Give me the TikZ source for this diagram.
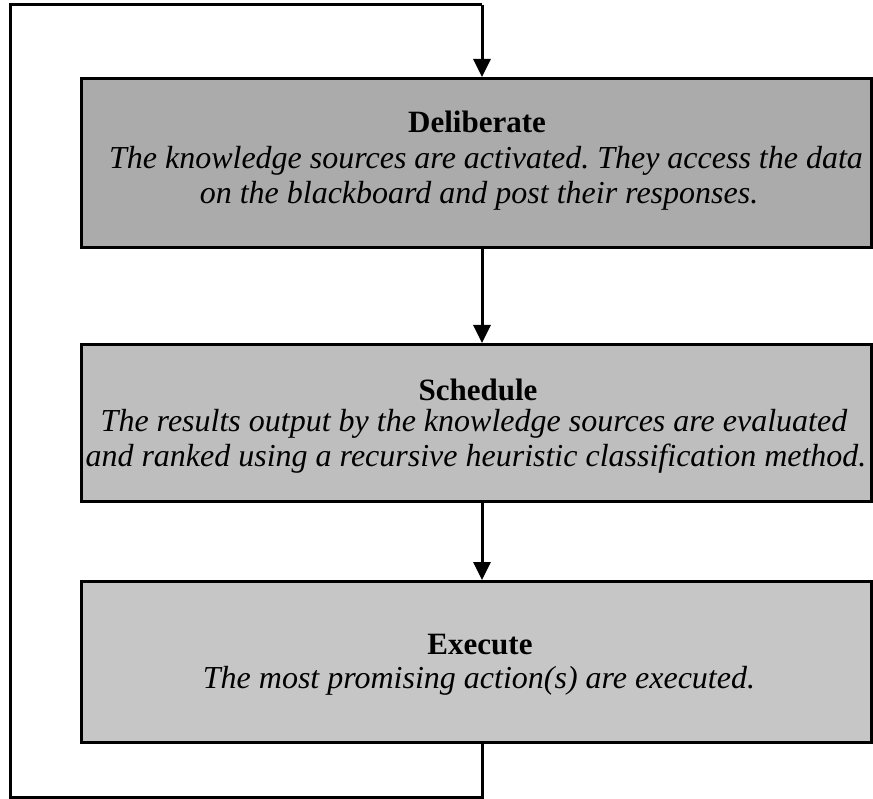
\documentclass[tikz,border=0pt]{standalone}
\usepackage{fontspec}
\setmainfont{Liberation Serif}
\usetikzlibrary{arrows.meta}
\definecolor{delibfill}{HTML}{ABABAB}
\definecolor{schedfill}{HTML}{BEBEBE}
\definecolor{execfill}{HTML}{C6C6C6}
\tikzset{
  stagebox/.style={draw=black, line width=3pt, rectangle, anchor=north west, inner sep=0pt},
  title/.style={font=\fontsize{31}{36}\selectfont\bfseries, inner sep=0pt},
  body/.style={font=\fontsize{32}{36}\selectfont\itshape, inner sep=0pt},
  flow/.style={line width=3pt, -{Triangle[width=17pt,length=18pt]}},
  loopline/.style={line width=3pt}
}
\begin{document}
\begin{tikzpicture}[x=1pt,y=-1pt]
\useasboundingbox (0,0) rectangle (873,799);
% boxes
\node[stagebox, fill=delibfill, minimum width=790pt, minimum height=169pt] (delib) at (80,77) {};
\node[stagebox, fill=schedfill, minimum width=790pt, minimum height=157pt] (sched) at (80,343) {};
\node[stagebox, fill=execfill, minimum width=790pt, minimum height=161pt] (exec) at (80,580) {};
% texts
\node[title] (delibT) at (477,122) {Deliberate};
\node[body] (delibA) at (486,161) {The knowledge sources are activated.\ They access the data};
\node[body] (delibB) at (479,196) {on the blackboard and post their responses.};
\node[title] (schedT) at (478,390) {Schedule};
\node[body] (schedA) at (474,424) {The results output by the knowledge sources are evaluated};
\node[body] (schedB) at (476,459) {and ranked using a recursive heuristic classification method.};
\node[title] (execT) at (480,645) {Execute};
\node[body] (execA) at (479,681) {The most promising action(s) are executed.};
% coordinates of the loop
\coordinate (low) at (482,797);
\coordinate (lowleft) at (10,797);
\coordinate (topleft) at (10,5);
\coordinate (top) at (482,5);
% connectors
\draw[flow] (delib.south -| top) -- (sched.north -| top);
\draw[flow] (sched.south -| top) -- (exec.north -| top);
\draw[loopline] (exec.south -| top) -- (low) -- (lowleft) -- (topleft) -- (top);
\draw[flow] (top) -- (delib.north -| top);
\end{tikzpicture}
\end{document}
